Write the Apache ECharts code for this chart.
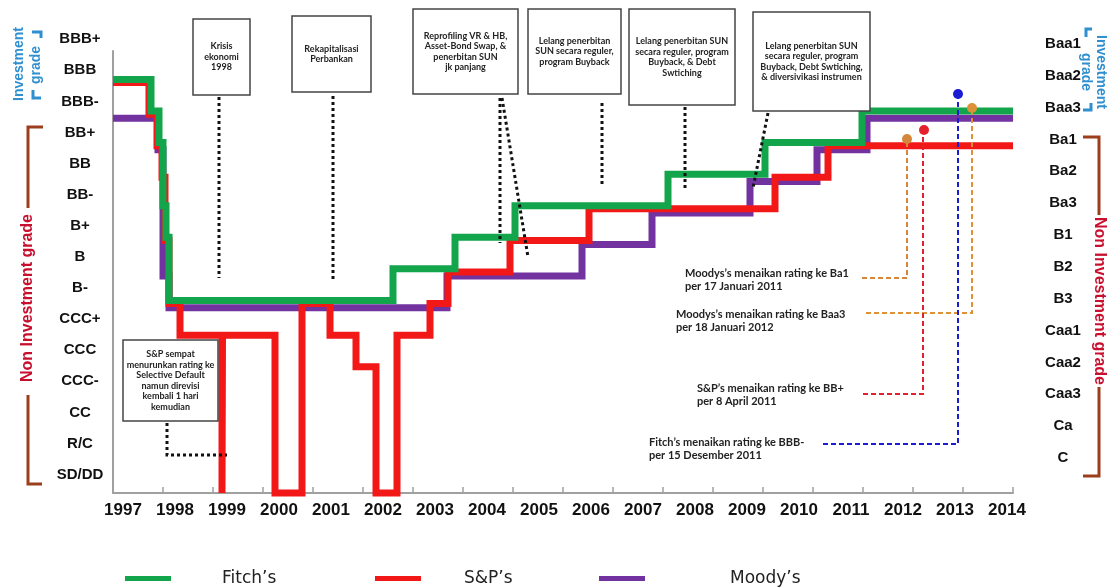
<!DOCTYPE html>
<html>
<head>
    <meta charset="utf-8" />
    <title>Rating Indonesia</title>
</head>
<body style="margin:0;background:#fff;">
<script src="https://cdn.jsdelivr.net/npm/echarts@6.0.0/dist/echarts.min.js"></script>
<div id="main" style="width: 1108px;height:588px;"></div>
<script type="text/javascript">
    // tahun (label sumbu x)
    var years = ['1997', '1998', '1999', '2000', '2001', '2002', '2003', '2004', '2005',
        '2006', '2007', '2008', '2009', '2010', '2011', '2012', '2013', '2014'];
    // skala S&P / Fitch, level 0..14
    var leftRatings = ['SD/DD', 'R/C', 'CC', 'CCC-', 'CCC', 'CCC+', 'B-', 'B', 'B+',
        'BB-', 'BB', 'BB+', 'BBB-', 'BBB', 'BBB+'];
    // skala Moody's
    var rightRatings = ['C', 'Ca', 'Caa3', 'Caa2', 'Caa1', 'B3', 'B2', 'B1', 'Ba3',
        'Ba2', 'Ba1', 'Baa3', 'Baa2', 'Baa1'];

    // titik perubahan rating: [tahun, level]
    var fitch = [[1997.0, 13], [1997.76, 12], [1997.92, 11], [1998.0, 9], [1998.06, 8],
        [1998.12, 6], [2002.6, 7], [2003.84, 8], [2005.04, 9], [2008.1, 10],
        [2010.04, 11], [2011.98, 12], [2015, 12]];
    var sp = [[1997.0, 13], [1997.72, 12], [1997.88, 11], [1997.98, 10], [1998.04, 8],
        [1998.12, 6], [1998.34, 5], [1999.18, 0], [1999.19, 5], [2000.24, 0],
        [2000.78, 6], [2001.34, 5], [2001.86, 4], [2002.26, 0], [2002.68, 5],
        [2003.34, 6], [2003.7, 7], [2004.94, 8], [2006.52, 9], [2010.24, 10],
        [2011.3, 11], [2015, 11]];
    var moodys = [[1997.0, 12], [1997.9, 11], [1998.0, 7], [1998.12, 6], [2003.68, 7],
        [2006.38, 8], [2007.78, 9], [2009.74, 10], [2011.08, 11], [2012.08, 12],
        [2015, 12]];

    // teks anotasi
    var boxTexts = [
        'Krisis\nekonomi\n1998',
        'Rekapitalisasi\nPerbankan',
        'Reprofiling VR & HB,\nAsset-Bond Swap, &\npenerbitan SUN\njk panjang',
        'Lelang penerbitan\nSUN secara reguler,\nprogram Buyback',
        'Lelang penerbitan SUN\nsecara reguler, program\nBuyback, & Debt\nSwtiching',
        'Lelang penerbitan SUN\nsecara reguler, program\nBuyback, Debt Swtiching,\n& diversivikasi instrumen',
        'S&P sempat\nmenurunkan rating ke\nSelective Default\nnamun direvisi\nkembali 1 hari\nkemudian'
    ];
    var calloutTexts = [
        'Moodys\u2019s menaikan rating ke Ba1\nper 17 Januari 2011',
        'Moodys\u2019s menaikan rating ke Baa3\nper 18 Januari 2012',
        'S&P\u2019s menaikan rating ke BB+\nper 8 April 2011',
        'Fitch\u2019s menaikan rating ke BBB-\nper 15 Desember 2011'
    ];

    var GREEN = '#13a54b', RED = '#f21818', PURPLE = '#7232a0';
    var labelFont = "'Liberation Sans', Arial, sans-serif";

    var myChart = echarts.init(document.getElementById('main'));

    // kotak anotasi (posisi dalam piksel)
    var boxes = [
        [193, 19, 57, 76], [292, 16, 79, 76], [413, 9, 105, 85], [528, 9, 93, 85],
        [629, 9, 106, 96], [753, 12, 117, 99], [123, 340, 95, 81]
    ];
    var graphics = [];
    boxes.forEach(function (b, i) {
        graphics.push({
            type: 'rect', z: 50,
            shape: { x: b[0], y: b[1], width: b[2], height: b[3] },
            style: { fill: '#fff', stroke: '#444', lineWidth: 1.5 }
        });
        graphics.push({
            type: 'text', z: 51, x: b[0] + b[2] / 2, y: b[1] + b[3] / 2,
            style: {
                text: boxTexts[i], font: 'bold 9px Lato, sans-serif', fill: '#222',
                align: 'center', verticalAlign: 'middle', lineHeight: 10.5
            }
        });
    });
    // garis titik-titik
    var dotted = [
        [[219, 97], [219, 278]], [[333, 96], [333, 281]], [[500, 98], [500, 243]],
        [[502, 98], [528, 257]], [[602, 103], [602, 187]], [[685, 107], [685, 188]],
        [[768, 113], [753, 188]], [[167, 423], [167, 455], [227, 455]]
    ];
    dotted.forEach(function (pts) {
        graphics.push({
            type: 'polyline', z: 50, shape: { points: pts },
            style: { stroke: '#111', lineWidth: 3, lineDash: [3, 3], fill: null }
        });
    });
    // callout kanan
    var callouts = [
        { c: '#d4873a', pts: [[862, 278], [907, 278], [907, 141]], dot: [907, 139], tx: 685, ty: 279.5 },
        { c: '#dd9238', pts: [[866, 313], [972, 313], [972, 110]], dot: [972, 108], tx: 676, ty: 321 },
        { c: '#e3202c', pts: [[863, 394], [923, 394], [923, 132]], dot: [924, 130], tx: 697, ty: 394.5 },
        { c: '#1c1cd2', pts: [[823, 444], [958, 444], [958, 96]], dot: [958, 94], tx: 649, ty: 449 }
    ];
    callouts.forEach(function (o, i) {
        graphics.push({
            type: 'polyline', z: 60, shape: { points: o.pts },
            style: { stroke: o.c, lineWidth: 2, lineDash: [5, 3], fill: null }
        });
        graphics.push({
            type: 'circle', z: 61, shape: { cx: o.dot[0], cy: o.dot[1], r: 5 },
            style: { fill: o.c }
        });
        graphics.push({
            type: 'text', z: 61, x: o.tx, y: o.ty,
            style: {
                text: calloutTexts[i], font: 'bold 11px Lato, sans-serif', fill: '#222',
                align: 'left', verticalAlign: 'middle', lineHeight: 13
            }
        });
    });
    // keterangan grade di sisi kiri dan kanan
    var BLUE = '#2f8fcf', BROWN = '#9c3d1c', DARKRED = '#c8102e';
    function sideText(txt, x, y, rot, color, size) {
        graphics.push({
            type: 'text', x: x, y: y, rotation: rot,
            style: {
                text: txt, font: 'bold ' + size + 'px "Liberation Sans", sans-serif', fill: color,
                align: 'center', verticalAlign: 'middle'
            }
        });
    }
    function bracket(pts, color) {
        graphics.push({
            type: 'polyline', shape: { points: pts },
            style: { stroke: color, lineWidth: 3, fill: null }
        });
    }
    sideText('Investment', 19, 64, Math.PI / 2, BLUE, 14);
    sideText('grade', 36, 65, Math.PI / 2, BLUE, 14);
    bracket([[32, 32], [41, 32], [41, 38]], BLUE);
    bracket([[33, 90], [33, 98], [41, 98]], BLUE);
    sideText('Non Investment grade', 28, 298, Math.PI / 2, DARKRED, 16);
    bracket([[43, 127], [28, 127], [28, 208]], BROWN);
    bracket([[28, 395], [28, 484], [42, 484]], BROWN);

    sideText('Investment', 1101, 72, -Math.PI / 2, BLUE, 14);
    sideText('grade', 1086, 72, -Math.PI / 2, BLUE, 14);
    bracket([[1092, 29], [1086, 29], [1086, 37]], BLUE);
    bracket([[1083, 110], [1091, 110], [1091, 103]], BLUE);
    sideText('Non Investment grade', 1099, 301, -Math.PI / 2, DARKRED, 16);
    bracket([[1083, 137], [1099, 137], [1099, 215]], BROWN);
    bracket([[1099, 387], [1099, 476], [1083, 476]], BROWN);

    function shift(arr, d) {
        return arr.map(function (p) { return [p[0], p[1] + d]; });
    }
    function lineSeries(name, data, color, z) {
        return {
            name: name, type: 'line', step: 'end', data: data,
            xAxisIndex: 0, yAxisIndex: 0, symbol: 'none', clip: false, z: z,
            itemStyle: { color: color },
            lineStyle: { width: 7, color: color, join: 'miter' }
        };
    }
    function legendItem(name, left, pad) {
        return {
            data: [name], left: left, top: 565, icon: 'rect',
            itemWidth: 46, itemHeight: 5, itemGap: 0,
            textStyle: { fontFamily: 'DejaVu Sans', fontSize: 17, color: '#222', padding: [0, 0, 0, pad] }
        };
    }
    var labelStyle = { fontFamily: labelFont, fontWeight: 'bold', fontSize: 15, color: '#111' };

    var option = {
        animation: false,
        backgroundColor: '#fff',
        grid: [
            { left: 113, right: 95, top: 51, bottom: 95 },   // data
            { left: 97, right: 75, top: 51, bottom: 95 },    // label tahun
            { left: 113, right: 95, top: 23.7, bottom: 97.8 }, // label kiri
            { left: 113, right: 95, top: 28, bottom: 114 }    // label kanan
        ],
        legend: [
            legendItem('Fitch\u2019s', 120, 46),
            legendItem('S&P\u2019s', 370, 38),
            legendItem('Moody\u2019s', 594, 80)
        ],
        xAxis: [
            {
                type: 'value', gridIndex: 0, min: 1997, max: 2015, interval: 1,
                axisLine: { show: true, onZero: false, lineStyle: { color: '#a0a0a0', width: 2 } },
                axisTick: { show: true, inside: true, length: 6, lineStyle: { color: '#a0a0a0', width: 1.5 } },
                axisLabel: { show: false },
                splitLine: { show: false }
            },
            {
                type: 'category', gridIndex: 1, data: years, boundaryGap: true,
                axisLine: { show: false }, axisTick: { show: false },
                axisLabel: Object.assign({ interval: 0, margin: 9 }, labelStyle, { fontSize: 17 })
            },
            { type: 'value', gridIndex: 2, show: false },
            { type: 'value', gridIndex: 3, show: false }
        ],
        yAxis: [
            {
                type: 'value', gridIndex: 0, min: 0, max: 14, interval: 1,
                axisLine: { show: true, onZero: false, lineStyle: { color: '#a0a0a0', width: 2 } },
                axisTick: { show: false }, splitLine: { show: false },
                axisLabel: { show: false }
            },
            { type: 'value', gridIndex: 1, show: false },
            {
                type: 'category', gridIndex: 2, data: leftRatings, boundaryGap: true,
                axisLine: { show: false }, axisTick: { show: false },
                axisLabel: Object.assign({ interval: 0, align: 'center', margin: 33 }, labelStyle)
            },
            {
                type: 'category', gridIndex: 3, position: 'right', data: rightRatings, boundaryGap: true,
                axisLine: { show: false }, axisTick: { show: false },
                axisLabel: Object.assign({ interval: 0, align: 'center', margin: 50 }, labelStyle)
            }
        ],
        series: [
            lineSeries('Moody\u2019s', shift(moodys, -0.13), PURPLE, 2),
            lineSeries('S&P\u2019s', shift(sp, 0), RED, 3),
            lineSeries('Fitch\u2019s', shift(fitch, 0.1), GREEN, 4)
        ],
        graphic: graphics
    };
    myChart.setOption(option);
</script>
</body>
</html>
